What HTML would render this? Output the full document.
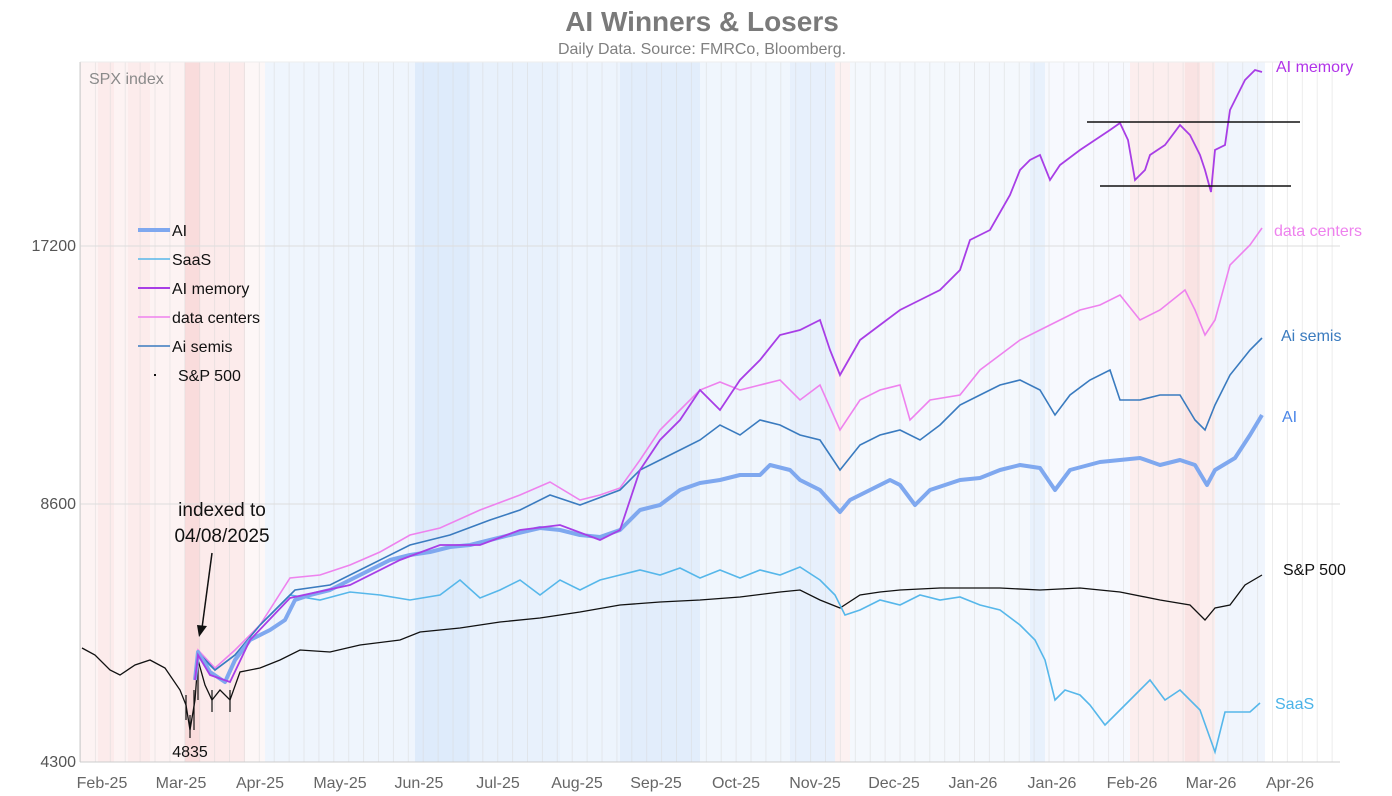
<!DOCTYPE html>
<html><head><meta charset="utf-8"><style>
html,body{margin:0;padding:0;background:#fff;}
svg{display:block;font-family:"Liberation Sans",Arial,sans-serif;}
</style></head><body>
<svg width="1392" height="796" viewBox="0 0 1392 796" xmlns="http://www.w3.org/2000/svg">
<defs>
<pattern id="g" x="80" y="0" width="14.9" height="796" patternUnits="userSpaceOnUse">
<line x1="0.5" y1="0" x2="0.5" y2="796" stroke="#d8d8d8" stroke-width="0.8" opacity="0.6"/>
</pattern>
</defs>
<g>
<rect x="80" y="62" width="110" height="700" fill="#fdf3f3"/>
<rect x="98" y="62" width="16" height="700" fill="#fcebeb"/>
<rect x="128" y="62" width="22" height="700" fill="#fcecec"/>
<rect x="185" y="62" width="15" height="700" fill="#f9dcdc"/>
<rect x="200" y="62" width="45" height="700" fill="#fcebeb"/>
<rect x="245" y="62" width="20" height="700" fill="#fdf7f7"/>
<rect x="265" y="62" width="150" height="700" fill="#eff5fd"/>
<rect x="415" y="62" width="55" height="700" fill="#deebfb"/>
<rect x="470" y="62" width="90" height="700" fill="#e8f1fc"/>
<rect x="560" y="62" width="60" height="700" fill="#edf4fd"/>
<rect x="620" y="62" width="80" height="700" fill="#e2edfb"/>
<rect x="700" y="62" width="90" height="700" fill="#f0f6fd"/>
<rect x="790" y="62" width="45" height="700" fill="#e7f0fc"/>
<rect x="835" y="62" width="15" height="700" fill="#fcf1f1"/>
<rect x="850" y="62" width="180" height="700" fill="#f4f8fd"/>
<rect x="1030" y="62" width="15" height="700" fill="#e8f1fc"/>
<rect x="1045" y="62" width="85" height="700" fill="#f7f9fe"/>
<rect x="1130" y="62" width="85" height="700" fill="#fceeee"/>
<rect x="1185" y="62" width="15" height="700" fill="#fae3e3"/>
<rect x="1215" y="62" width="50" height="700" fill="#f0f5fd"/>
<rect x="80" y="62" width="1260" height="700" fill="url(#g)"/>
</g>
<line x1="80" y1="246" x2="1340" y2="246" stroke="#ddd" stroke-width="1"/>
<line x1="80" y1="504" x2="1340" y2="504" stroke="#ddd" stroke-width="1"/>
<line x1="80" y1="62" x2="1340" y2="62" stroke="#eee" stroke-width="1"/>
<line x1="80" y1="62" x2="80" y2="762" stroke="#ccc" stroke-width="1"/>
<line x1="80" y1="762" x2="1340" y2="762" stroke="#ccc" stroke-width="1"/>

<text x="702" y="31" text-anchor="middle" font-size="28" font-weight="bold" fill="#7a7a7a">AI Winners &amp; Losers</text>
<text x="702" y="54" text-anchor="middle" font-size="16" fill="#808080">Daily Data.  Source: FMRCo, Bloomberg.</text>
<text x="89" y="84" font-size="16" fill="#8a8a8a">SPX index</text>

<g font-size="16" fill="#555" text-anchor="end">
<text x="76" y="251">17200</text>
<text x="76" y="509">8600</text>
<text x="76" y="767">4300</text>
</g>
<g font-size="16" fill="#666" text-anchor="middle">
<text x="102" y="788">Feb-25</text><text x="181" y="788">Mar-25</text><text x="260" y="788">Apr-25</text>
<text x="340" y="788">May-25</text><text x="419" y="788">Jun-25</text><text x="498" y="788">Jul-25</text>
<text x="577" y="788">Aug-25</text><text x="656" y="788">Sep-25</text><text x="736" y="788">Oct-25</text>
<text x="815" y="788">Nov-25</text><text x="894" y="788">Dec-25</text><text x="973" y="788">Jan-26</text>
<text x="1052" y="788">Jan-26</text><text x="1132" y="788">Feb-26</text><text x="1211" y="788">Mar-26</text>
<text x="1290" y="788">Apr-26</text>
</g>

<polyline fill="none" stroke="#111" stroke-width="1.3" points="82,648 95,655 110,670 120,675 135,665 150,660 165,668 180,690 186,705 190,730 195,700 198,660 205,685 212,700 220,690 230,700 240,672 260,668 280,660 300,650 330,652 360,645 400,640 420,632 460,628 500,622 540,618 580,612 620,605 660,602 700,600 740,597 780,592 800,590 820,600 840,608 860,595 880,592 900,590 940,588 1000,588 1040,590 1080,588 1120,592 1160,600 1190,605 1205,620 1215,608 1230,605 1245,585 1262,575"/>
<g stroke="#111" stroke-width="1.2">
<line x1="186" y1="695" x2="186" y2="720"/><line x1="190" y1="715" x2="190" y2="738"/><line x1="194" y1="690" x2="194" y2="730"/><line x1="198" y1="655" x2="198" y2="700"/><line x1="212" y1="690" x2="212" y2="712"/><line x1="230" y1="690" x2="230" y2="712"/>
</g>
<polyline fill="none" stroke="#56b7ea" stroke-width="1.6" points="195,675 198,655 215,670 235,655 260,625 290,595 320,600 350,592 380,595 410,600 440,595 460,580 480,598 500,590 520,580 540,595 560,580 580,590 600,580 620,575 640,570 660,575 680,568 700,578 720,570 740,578 760,570 780,575 800,567 820,580 835,595 845,615 860,610 880,600 900,605 920,595 940,600 960,597 980,605 1000,610 1020,625 1035,640 1045,660 1055,700 1065,690 1080,695 1090,705 1105,725 1120,710 1140,690 1150,680 1165,700 1180,690 1200,710 1215,752 1225,712 1250,712 1260,703"/>
<polyline fill="none" stroke="#ee82ee" stroke-width="1.6" points="195,670 198,650 215,668 235,650 260,625 290,578 320,575 350,565 380,552 410,535 440,528 480,510 520,495 550,482 580,500 600,495 620,488 640,460 660,430 680,410 700,390 720,382 740,390 760,385 780,380 800,400 820,385 840,430 860,400 880,390 900,385 910,420 930,400 960,395 980,370 1000,355 1020,340 1040,330 1060,320 1080,310 1100,305 1120,295 1140,320 1160,310 1185,290 1195,310 1205,335 1215,320 1230,265 1250,245 1262,228"/>
<polyline fill="none" stroke="#3a7bbf" stroke-width="1.6" points="195,675 198,652 215,670 235,655 260,625 295,590 330,585 370,565 410,545 450,535 490,520 520,510 550,495 580,505 620,490 640,470 660,460 680,450 700,440 720,425 740,435 760,420 780,425 800,435 820,440 840,470 860,445 880,435 900,430 920,440 940,425 960,405 980,395 1000,385 1020,380 1040,390 1055,415 1070,395 1090,380 1110,370 1120,400 1140,400 1160,395 1180,395 1195,420 1205,430 1215,405 1230,375 1250,350 1262,338"/>
<polyline fill="none" stroke="#7fa8ef" stroke-width="4" stroke-linejoin="round" points="195,680 198,652 210,672 225,682 235,660 250,640 270,630 285,620 295,600 310,595 330,590 350,580 370,570 390,560 410,555 430,552 450,547 470,545 490,540 510,535 540,528 560,530 580,535 600,537 620,530 640,510 660,505 680,490 700,483 720,480 740,475 760,475 770,465 790,470 800,480 820,490 840,512 850,500 870,490 890,480 900,485 915,505 930,490 960,480 980,478 1000,470 1020,465 1040,468 1055,490 1070,470 1100,462 1120,460 1140,458 1160,465 1180,460 1195,465 1207,485 1215,470 1235,458 1250,435 1262,415"/>
<polyline fill="none" stroke="#a83ee6" stroke-width="1.8" points="195,680 198,655 210,675 230,682 250,640 290,598 350,585 400,560 440,545 480,545 520,530 560,525 600,540 620,530 640,470 660,440 680,420 700,390 710,400 720,410 740,380 760,360 780,335 800,330 820,320 830,350 840,375 860,340 880,325 900,310 920,300 940,290 960,270 970,240 990,230 1010,195 1020,170 1030,160 1040,155 1050,180 1060,165 1080,150 1095,140 1110,130 1120,123 1128,140 1135,180 1145,170 1150,155 1165,145 1180,125 1190,135 1200,155 1205,170 1211,192 1215,150 1225,145 1230,110 1245,80 1255,70 1262,72"/>

<line x1="1087" y1="122" x2="1300" y2="122" stroke="#111" stroke-width="1.6"/>
<line x1="1100" y1="186" x2="1291" y2="186" stroke="#111" stroke-width="1.6"/>

<text x="222" y="516" text-anchor="middle" font-size="19" fill="#111">indexed to</text>
<text x="222" y="542" text-anchor="middle" font-size="19" fill="#111">04/08/2025</text>
<line x1="212" y1="553" x2="202" y2="628" stroke="#111" stroke-width="1.5"/>
<polygon points="199,637 197,625 207,626" fill="#111"/>
<text x="190" y="757" text-anchor="middle" font-size="16" fill="#111">4835</text>

<g font-size="16">
<text x="1276" y="72" fill="#b032e8">AI memory</text>
<text x="1274" y="236" fill="#ee82ee">data centers</text>
<text x="1281" y="341" fill="#3a7bbf">Ai semis</text>
<text x="1282" y="422" fill="#4a86e8">AI</text>
<text x="1283" y="575" fill="#111">S&amp;P 500</text>
<text x="1275" y="709" fill="#4ab3e8">SaaS</text>
</g>

<g font-size="16" fill="#111">
<line x1="138" y1="230" x2="170" y2="230" stroke="#7fa8ef" stroke-width="4"/><text x="172" y="236">AI</text>
<line x1="138" y1="259" x2="170" y2="259" stroke="#56b7ea" stroke-width="1.6"/><text x="172" y="265">SaaS</text>
<line x1="138" y1="288" x2="170" y2="288" stroke="#a83ee6" stroke-width="2"/><text x="172" y="294">AI memory</text>
<line x1="138" y1="317" x2="170" y2="317" stroke="#ee82ee" stroke-width="1.6"/><text x="172" y="323">data centers</text>
<line x1="138" y1="346" x2="170" y2="346" stroke="#3a7bbf" stroke-width="1.6"/><text x="172" y="352">Ai semis</text>
<rect x="154" y="374" width="2" height="2" fill="#111"/><text x="178" y="381">S&amp;P 500</text>
</g>
</svg>
</body></html>
